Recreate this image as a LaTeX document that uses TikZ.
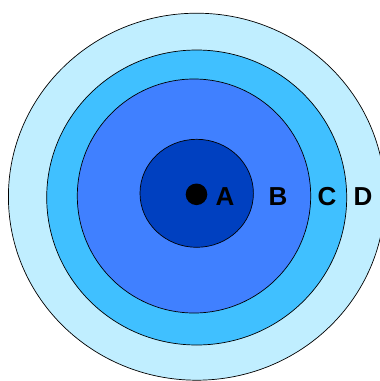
\documentclass[tikz,border=0pt]{standalone}
\usepackage{fontspec}
\setmainfont{Liberation Sans}
\definecolor{ringD}{RGB}{192,238,255}
\definecolor{ringC}{RGB}{64,192,255}
\definecolor{ringB}{RGB}{64,128,255}
\definecolor{ringA}{RGB}{0,64,192}
\begin{document}
\begin{tikzpicture}[x=1pt,y=-1pt,
  ring/.style={draw=black,line width=0.7pt},
  lbl/.style={font=\fontsize{26}{30}\selectfont\bfseries,text=black,inner sep=0pt}]
\useasboundingbox (0,0) rectangle (380,381);
\begin{scope}
\clip (0,0) rectangle (380,381);
\draw[ring,fill=ringD] (196.7,196.7) ellipse [x radius=188.3pt, y radius=183.5pt];
\draw[ring,fill=ringC] (196.7,197.5) ellipse [x radius=150pt, y radius=147.5pt];
\draw[ring,fill=ringB] (194,196) ellipse [x radius=116.7pt, y radius=117pt];
\draw[ring,fill=ringA] (196.7,193.3) ellipse [x radius=56.7pt, y radius=54pt];
\fill[black] (196.5,194.3) circle [radius=10.8pt];
\end{scope}
\node[lbl] (A) at (225,197) {A};
\node[lbl] (B) at (278,197) {B};
\node[lbl] (C) at (327,197) {C};
\node[lbl] (D) at (363,197) {D};
\end{tikzpicture}
\end{document}
